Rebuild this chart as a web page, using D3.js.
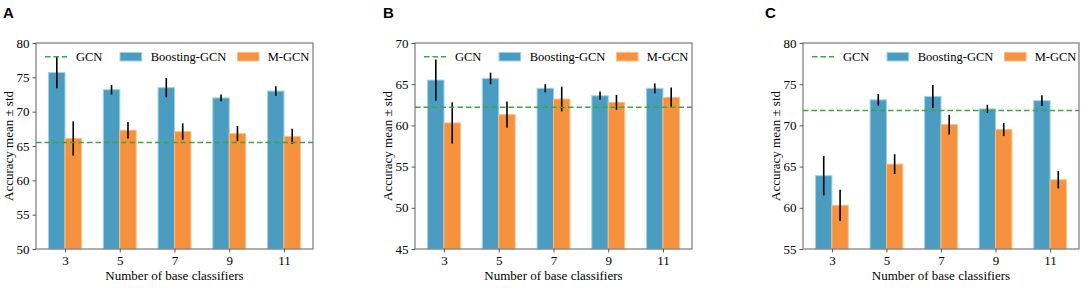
<!DOCTYPE html>
<html><head><meta charset="utf-8">
<script src="https://cdn.jsdelivr.net/npm/d3@7"></script>
<style>body{margin:0;background:#fff}svg{display:block}</style>
</head><body><svg id="c" width="1084" height="288"></svg>
<script>
const categories = ["3","5","7","9","11"];
const seriesNames = ["GCN","Boosting-GCN","M-GCN"];
const panelLetters = ["A","B","C"];
const yDomains = [[50,80],[45,70],[55,80]];
const yTicks = [[50,55,60,65,70,75,80],[45,50,55,60,65,70],[55,60,65,70,75,80]];
const gcnA = 65.5, gcnB = 62.2, gcnC = 71.8;
const boostA = [75.7,73.2,73.5,72.0,73.0];
const boostAstd = [2.3,0.7,1.4,0.5,0.7];
const mgcnA = [66.1,67.3,67.1,66.8,66.4];
const mgcnAstd = [2.5,1.2,1.2,1.1,1.1];
const boostB = [65.5,65.7,64.5,63.6,64.5];
const boostBstd = [2.5,0.7,0.5,0.5,0.6];
const mgcnB = [60.3,61.3,63.2,62.8,63.4];
const mgcnBstd = [2.5,1.6,1.5,0.9,1.2];
const boostC = [63.9,73.1,73.5,72.0,73.0];
const boostCstd = [2.4,0.7,1.4,0.5,0.65];
const mgcnC = [60.3,65.3,70.1,69.5,63.4];
const mgcnCstd = [1.9,1.2,1.2,0.8,1.05];

const panels = [
  {gcn:gcnA, b:boostA, bs:boostAstd, m:mgcnA, ms:mgcnAstd, left:36, right:313, letterX:3, ylabX:9},
  {gcn:gcnB, b:boostB, bs:boostBstd, m:mgcnB, ms:mgcnBstd, left:415, right:692, letterX:383, ylabX:388},
  {gcn:gcnC, b:boostC, bs:boostCstd, m:mgcnC, ms:mgcnCstd, left:803, right:1079, letterX:765, ylabX:776}
];
const plotTop = 43, plotBottom = 249;
const BLUE = "#4a9cc0", BLUE_E = "#9dd2ea", ORANGE = "#f6913d", ORANGE_E = "#fbbd86", GREEN = "#3da63d";
const serif = "'Liberation Serif','Times New Roman',serif";
const svg = d3.select("#c");
const bw = 0.3;

panels.forEach((p, pi) => {
  const g = svg.append("g");
  const x = d3.scaleLinear().domain([-bw - 0.23, categories.length - 1 + bw + 0.23]).range([p.left, p.right]);
  const y = d3.scaleLinear().domain(yDomains[pi]).range([plotBottom, plotTop]);

  categories.forEach((c, i) => {
    g.append("rect").attr("x", x(i - bw)).attr("width", x(bw) - x(0))
      .attr("y", y(p.b[i])).attr("height", y(yDomains[pi][0]) - y(p.b[i]))
      .attr("fill", BLUE).attr("stroke", BLUE_E).attr("stroke-width", 1);
    g.append("rect").attr("x", x(i)).attr("width", x(bw) - x(0))
      .attr("y", y(p.m[i])).attr("height", y(yDomains[pi][0]) - y(p.m[i]))
      .attr("fill", ORANGE).attr("stroke", ORANGE_E).attr("stroke-width", 1);
  });
  categories.forEach((c, i) => {
    g.append("line").attr("x1", x(i - bw/2)).attr("x2", x(i - bw/2))
      .attr("y1", y(p.b[i] + p.bs[i])).attr("y2", y(p.b[i] - p.bs[i]))
      .attr("stroke", "#000").attr("stroke-width", 1.6);
    g.append("line").attr("x1", x(i + bw/2)).attr("x2", x(i + bw/2))
      .attr("y1", y(p.m[i] + p.ms[i])).attr("y2", y(p.m[i] - p.ms[i]))
      .attr("stroke", "#000").attr("stroke-width", 1.6);
  });
  g.append("line").attr("x1", p.left).attr("x2", p.right)
    .attr("y1", y(p.gcn)).attr("y2", y(p.gcn))
    .attr("stroke", GREEN).attr("stroke-width", 1.6).attr("stroke-dasharray", "5.5,3");

  g.append("rect").attr("x", p.left).attr("y", plotTop).attr("width", p.right - p.left).attr("height", plotBottom - plotTop)
    .attr("fill", "none").attr("stroke", "#7a7a7a").attr("stroke-width", 1.2);

  const ya = d3.axisLeft(y).tickValues(yTicks[pi]).tickSize(3.5).tickPadding(3);
  const yg = g.append("g").attr("transform", `translate(${p.left},0)`).call(ya);
  const xa = d3.axisBottom(x).tickValues(d3.range(categories.length)).tickFormat(i => categories[i]).tickSize(3.5).tickPadding(3);
  const xg = g.append("g").attr("transform", `translate(0,${plotBottom})`).call(xa);
  [yg, xg].forEach(a => {
    a.select(".domain").remove();
    a.selectAll(".tick line").attr("stroke", "#333").attr("stroke-width", 0.8);
    a.selectAll("text").attr("font-family", serif).attr("font-size", 13).attr("fill", "#000");
  });

  g.append("text").attr("x", (p.left + p.right) / 2).attr("y", 280)
    .attr("text-anchor", "middle").attr("font-family", serif).attr("font-size", 13).text("Number of base classifiers");
  g.append("text").attr("transform", `translate(${p.ylabX + 4},${(plotTop + plotBottom) / 2}) rotate(-90)`)
    .attr("text-anchor", "middle").attr("font-family", serif).attr("font-size", 13).text("Accuracy mean \u00b1 std");

  g.append("text").attr("x", p.letterX).attr("y", 18).attr("font-family", "'Liberation Sans',Arial,sans-serif")
    .attr("font-weight", "bold").attr("font-size", 15).text(panelLetters[pi]);

  const ly = 56.7;
  const L = g.append("g").attr("transform", `translate(${p.left},0)`);
  L.append("line").attr("x1", 9).attr("x2", 31).attr("y1", ly).attr("y2", ly)
    .attr("stroke", GREEN).attr("stroke-width", 1.6).attr("stroke-dasharray", "5.5,3");
  L.append("text").attr("x", 40).attr("y", ly + 4).attr("font-family", serif).attr("font-size", 12.5).text(seriesNames[0]);
  L.append("rect").attr("x", 84).attr("y", ly - 4.3).attr("width", 21.7).attr("height", 8.6)
    .attr("fill", BLUE).attr("stroke", BLUE_E);
  L.append("text").attr("x", 114.7).attr("y", ly + 4).attr("font-family", serif).attr("font-size", 12.5).text(seriesNames[1]);
  L.append("rect").attr("x", 201.5).attr("y", ly - 4.3).attr("width", 21.5).attr("height", 8.6)
    .attr("fill", ORANGE).attr("stroke", ORANGE_E);
  L.append("text").attr("x", 231.7).attr("y", ly + 4).attr("font-family", serif).attr("font-size", 12.5).text(seriesNames[2]);
});
</script></body></html>
